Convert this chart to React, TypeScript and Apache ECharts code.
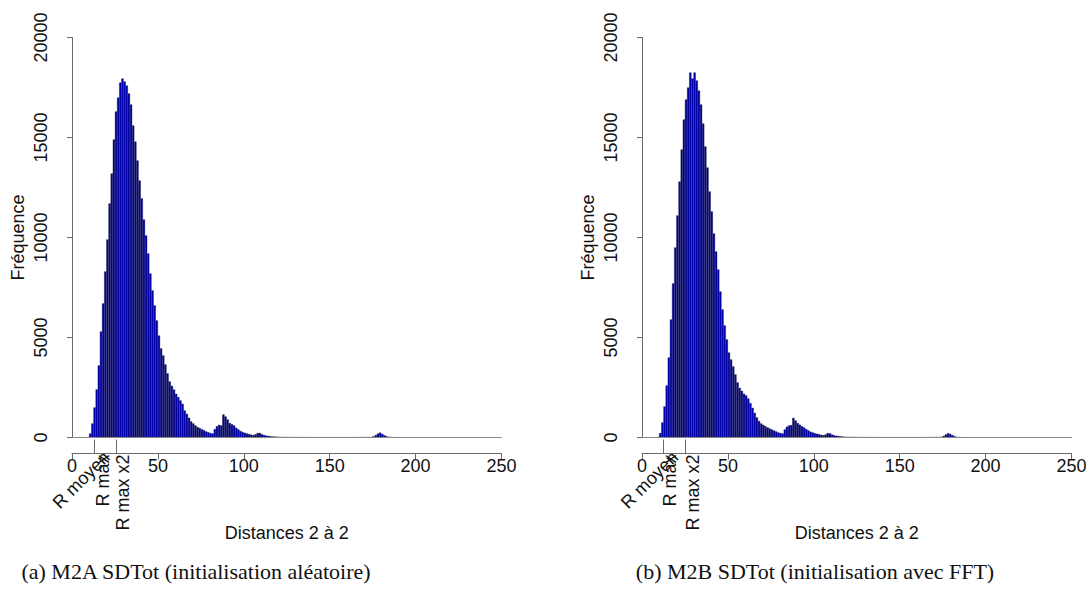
import React, { useEffect, useRef } from "react";
import * as echarts from "echarts";

// histogram bins: 200 bins of width 1.25 covering 0..250
const BIN_WIDTH = 1.25;
const X_MIN = 0;
const X_MAX = 250;
const X_INTERVAL = 50;
const Y_MIN = 0;
const Y_MAX = 20000;
const Y_INTERVAL = 5000;

const COUNTS_A = [
  0, 0, 0, 0, 0, 0, 0, 20, 200, 700,
  1500, 2400, 3600, 5300, 6700, 8300, 9900, 11700, 13200, 14900,
  16300, 17000, 17750, 17950, 17800, 17600, 17200, 16650, 15600, 14800,
  13850, 12850, 11950, 10900, 10100, 9200, 8200, 7350, 6600, 5850,
  5100, 4450, 4100, 3650, 3200, 2800, 2580, 2400, 2180, 2020,
  1850, 1680, 1350, 1180, 980, 800, 700, 600, 520, 470,
  410, 360, 300, 260, 220, 200, 420, 560, 630, 600,
  1150, 1050, 900, 720, 660, 600, 480, 400, 320, 270,
  230, 200, 170, 140, 120, 160, 230, 220, 160, 120,
  95, 75, 60, 50, 42, 36, 30, 26, 22, 20,
  18, 16, 14, 12, 11, 10, 9, 9, 8, 8,
  8, 7, 7, 7, 6, 6, 6, 6, 5, 5,
  5, 5, 5, 5, 5, 5, 6, 6, 6, 7,
  7, 8, 8, 9, 10, 12, 14, 16, 18, 25,
  60, 120, 200, 245, 180, 110, 60, 30, 15, 8,
  4, 2, 0, 0, 0, 0, 0, 0, 0, 0,
  0, 0, 0, 0, 0, 0, 0, 0, 0, 0,
  0, 0, 0, 0, 0, 0, 0, 0, 0, 0,
  0, 0, 0, 0, 0, 0, 0, 0, 0, 0,
  0, 0, 0, 0, 0, 0, 0, 0, 0, 0,
];

const COUNTS_B = [
  0, 0, 0, 0, 0, 0, 0, 20, 220, 750,
  1550, 2600, 4000, 5900, 7700, 9500, 11100, 12800, 14400, 15900,
  16900, 17500, 18250, 17950, 18250, 17850, 17350, 16650, 15700, 14550,
  13500, 12300, 11300, 10200, 9300, 8400, 7300, 6400, 5600, 4900,
  4250, 3900, 3550, 3150, 2750, 2480, 2330, 2180, 2100, 1950,
  1720, 1480, 1230, 1000, 820, 700, 630, 560, 500, 450,
  400, 350, 300, 250, 220, 200, 400, 540, 600, 620,
  980, 850, 720, 640, 560, 500, 420, 350, 290, 250,
  210, 190, 160, 130, 115, 150, 220, 210, 150, 110,
  85, 70, 55, 45, 38, 32, 27, 23, 20, 18,
  16, 14, 12, 11, 10, 9, 9, 8, 8, 8,
  7, 7, 7, 6, 6, 6, 6, 5, 5, 5,
  5, 5, 5, 5, 5, 5, 6, 6, 6, 7,
  7, 8, 8, 9, 10, 12, 14, 18, 22, 30,
  80, 150, 215, 180, 120, 65, 30, 14, 7, 4,
  2, 0, 0, 0, 0, 0, 0, 0, 0, 0,
  0, 0, 0, 0, 0, 0, 0, 0, 0, 0,
  0, 0, 0, 0, 0, 0, 0, 0, 0, 0,
  0, 0, 0, 0, 0, 0, 0, 0, 0, 0,
  0, 0, 0, 0, 0, 0, 0, 0, 0, 0,
];

const SPECIAL_TICKS_A = [13.0, 25.8];
const SPECIAL_TICKS_B = [12.1, 25.2];
const SPECIAL_LABELS = ["R moyen", "R max", "R max x2"];
const SPECIAL_LABEL_ROT = [45, 90, 90];
const SPECIAL_LABEL_POS_A = [20.2, 18.2, 29.9];
const SPECIAL_LABEL_POS_B = [19.2, 16.3, 29.5];

const X_NAME = "Distances 2 à 2";
const Y_NAME = "Fréquence";
const CAPTIONS = [
  "(a) M2A SDTot (initialisation aléatoire)",
  "(b) M2B SDTot (initialisation avec FFT)",
];

const SANS = "'Liberation Sans', Arial, Helvetica, sans-serif";
const SERIF = "'Liberation Serif', 'Times New Roman', serif";
const AXIS_COLOR = "#6a6a6a";
const GRIDS = [
  { left: 72, top: 37.5, width: 429.5, height: 400 },
  { left: 642, top: 37.5, width: 429.5, height: 400 },
];
const CAPTION_X = [196, 815];
const CAPTION_Y = 571;

export default function App() {
  const ref = useRef<HTMLDivElement | null>(null);

  useEffect(() => {
    if (!ref.current) return;
    const chart = echarts.init(ref.current, undefined, { renderer: "svg" });
    const categories = COUNTS_A.map((_, i) => (i * BIN_WIDTH).toFixed(2));
    const countsList = [COUNTS_A, COUNTS_B];
    const specialTicks = [SPECIAL_TICKS_A, SPECIAL_TICKS_B];

    const xAxis: any[] = [];
    const yAxis: any[] = [];
    const series: any[] = [];
    GRIDS.forEach((_, g) => {
      xAxis.push({
        type: "category",
        gridIndex: g,
        data: categories,
        boundaryGap: true,
        show: false,
      });
      xAxis.push({
        type: "value",
        gridIndex: g,
        position: "bottom",
        min: X_MIN,
        max: X_MAX,
        interval: X_INTERVAL,
        offset: 16,
        splitLine: { show: false },
        axisLine: { show: true, lineStyle: { color: AXIS_COLOR, width: 1 } },
        axisTick: { show: true, length: 6, lineStyle: { color: AXIS_COLOR } },
        axisLabel: {
          fontSize: 18,
          color: "#111",
          fontFamily: SANS,
          margin: 3,
          formatter: (v: number) => String(v),
        },
        name: X_NAME,
        nameLocation: "middle",
        nameGap: 70,
        nameTextStyle: { fontSize: 18, color: "#111", fontFamily: SANS },
      });
      xAxis.push({
        type: "value",
        gridIndex: g,
        position: "bottom",
        min: X_MIN,
        max: X_MAX,
        offset: 16,
        splitLine: { show: false },
        axisLine: { show: false },
        axisTick: {
          show: true,
          inside: true,
          length: 14,
          customValues: specialTicks[g],
          lineStyle: { color: AXIS_COLOR },
        },
        axisLabel: { show: false },
      });
      yAxis.push({
        type: "value",
        gridIndex: g,
        min: Y_MIN,
        max: Y_MAX,
        interval: Y_INTERVAL,
        offset: 17,
        splitLine: { show: false },
        axisLine: { show: true, lineStyle: { color: AXIS_COLOR, width: 1 } },
        axisTick: { show: true, length: 5, lineStyle: { color: AXIS_COLOR } },
        axisLabel: {
          fontSize: 18,
          color: "#111",
          fontFamily: SANS,
          rotate: 90,
          margin: 5,
          formatter: (v: number) => String(v),
        },
        name: Y_NAME,
        nameLocation: "middle",
        nameGap: 28,
        nameTextStyle: { fontSize: 18, color: "#111", fontFamily: SANS },
      });
      series.push({
        type: "bar",
        xAxisIndex: g * 3,
        yAxisIndex: g,
        data: countsList[g],
        barWidth: "100%",
        barCategoryGap: "0%",
        itemStyle: { color: "#0000b8", borderColor: "#00001a", borderWidth: 0.35 },
        markLine: {
          silent: true,
          symbol: "none",
          label: { show: false },
          lineStyle: { color: "#8a8a8a", width: 1, type: "solid" },
          data: [{ yAxis: 0 }],
        },
      });
    });

    chart.setOption({
      animation: false,
      backgroundColor: "#ffffff",
      grid: GRIDS.map((g) => ({ ...g, containLabel: false })),
      xAxis,
      yAxis,
      series,
    });

    const graphic: any[] = [];
    const labelPos = [SPECIAL_LABEL_POS_A, SPECIAL_LABEL_POS_B];
    GRIDS.forEach((_, g) => {
      const axisY = (chart.convertToPixel({ yAxisIndex: g }, 0) as number) + 17;
      SPECIAL_LABELS.forEach((text, k) => {
        const px = chart.convertToPixel({ xAxisIndex: g * 3 + 1 }, labelPos[g][k]) as number;
        graphic.push({
          type: "text",
          x: px,
          y: axisY,
          rotation: (SPECIAL_LABEL_ROT[k] * Math.PI) / 180,
          style: {
            text,
            fontSize: 18,
            fontFamily: SANS,
            fill: "#111",
            align: "right",
            verticalAlign: "middle",
          },
        });
      });
      graphic.push({
        type: "text",
        x: CAPTION_X[g],
        y: CAPTION_Y,
        style: {
          text: CAPTIONS[g],
          fontSize: 22,
          fontFamily: SERIF,
          fill: "#111",
          align: "center",
          verticalAlign: "middle",
        },
      });
    });
    chart.setOption({ graphic });

    return () => chart.dispose();
  }, []);

  return (
    <div
      ref={ref}
      style={{ position: "absolute", left: 0, top: 0, width: 1090, height: 590, background: "#fff" }}
    />
  );
}
